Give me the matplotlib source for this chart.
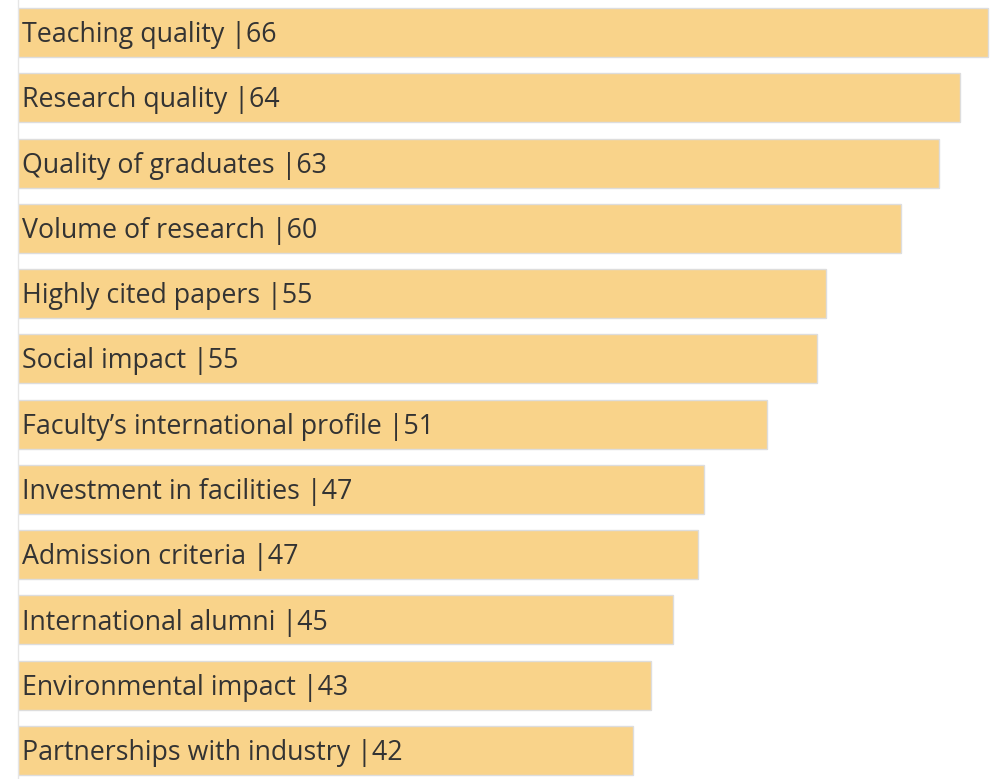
import matplotlib.pyplot as plt
import numpy as np

categories = [
    "Teaching quality",
    "Research quality",
    "Quality of graduates",
    "Volume of research",
    "Highly cited papers",
    "Social impact",
    "Faculty\u2019s international profile",
    "Investment in facilities",
    "Admission criteria",
    "International alumni",
    "Environmental impact",
    "Partnerships with industry",
]
values = [66.0, 64.1, 62.7, 60.1, 55.0, 54.4, 51.0, 46.7, 46.3, 44.6, 43.1, 41.9]
labels = [66, 64, 63, 60, 55, 55, 51, 47, 47, 45, 43, 42]


def main():
    fig = plt.figure(figsize=(9.98, 7.79), dpi=100)
    ax = fig.add_axes([17.5 / 998, 0, 1 - 17.5 / 998, 1])

    y = np.arange(len(categories))
    ax.barh(y, values, height=0.75, color="#F9D38A",
            edgecolor="#DDDDDD", linewidth=1.0)

    for i, (cat, lab) in enumerate(zip(categories, labels)):
        ax.text(0.3, i + 0.04, f"{cat} |{lab}", va="center", ha="left",
                fontsize=19.3, family="Open Sans", color="#333333")

    ax.set_xlim(0, 980.5 / 14.7)
    ax.set_ylim(11.437, -0.498)
    ax.set_xticks([])
    ax.set_yticks([])
    for s in ["top", "right", "bottom"]:
        ax.spines[s].set_visible(False)
    ax.spines["left"].set_color("#E6E6E6")
    ax.spines["left"].set_linewidth(1.0)

    fig.savefig("out.png", dpi=100)


if __name__ == "__main__":
    main()
